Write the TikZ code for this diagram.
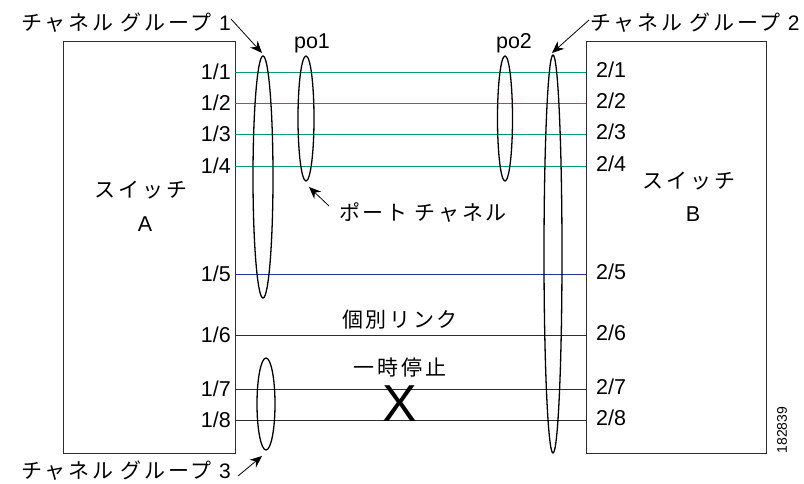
\documentclass[tikz,border=0pt]{standalone}
\usepackage{fontspec}
\setmainfont{Liberation Sans}
\newfontfamily\jp[LetterSpace=13]{Noto Sans CJK JP}
\usetikzlibrary{shapes.geometric,arrows.meta}
\definecolor{lgreen}{RGB}{0,155,115}
\definecolor{lblue}{RGB}{40,50,160}
\definecolor{lgrey}{RGB}{45,45,45}
\tikzset{
  switchbox/.style={draw=lgrey,line width=1.2pt,inner sep=0pt,anchor=north west},
  grp/.style={ellipse,draw=black,line width=1.3pt,inner sep=0pt},
  lbl/.style={font=\fontsize{21.5pt}{23pt}\selectfont,inner sep=0pt},
  jlbl/.style={font=\fontsize{21pt}{23pt}\selectfont\jp,inner sep=0pt},
  greenlink/.style={draw=lgreen,line width=1pt},
  bluelink/.style={draw=lblue,line width=1pt},
  blacklink/.style={draw=lgrey,line width=1pt},
  pointer/.style={draw=black,line width=0.8pt,-{Stealth[length=12pt,width=10pt]}},
}
\begin{document}
\begin{tikzpicture}[x=1pt,y=-1pt]
\useasboundingbox (0,0) rectangle (804,483);
% switches
\node[switchbox,minimum width=172pt,minimum height=412pt] (swA) at (63,41) {};
\node[switchbox,minimum width=180pt,minimum height=412pt] (swB) at (586,41) {};
\node[jlbl] (swAt) at (141,190) {スイッチ};
\node[lbl] (swAl) at (145,224) {A};
\node[jlbl] (swBt) at (689,181) {スイッチ};
\node[lbl] (swBl) at (693,214) {B};
% ports
\foreach \i/\y in {1/72,2/103,3/134,4/166,5/274,6/335,7/389,8/420}{
  \coordinate (pA\i) at (235,\y);
  \coordinate (pB\i) at (586,\y);
  \node[lbl,anchor=east] (lA\i) at (231,\y) {1/\i};
  \node[lbl,anchor=west] (lB\i) at (596,\y-2) {2/\i};
}
% links
\foreach \i in {1,2,3,4}{\draw[greenlink] (pA\i) -- (pB\i);}
\draw[bluelink] (pA5) -- (pB5);
\foreach \i in {6,7,8}{\draw[blacklink] (pA\i) -- (pB\i);}
% ellipses
\node[grp,minimum width=20pt,minimum height=242pt] (cg1) at (263,177) {};
\node[grp,minimum width=16pt,minimum height=125pt] (po1) at (306,118.5) {};
\node[grp,minimum width=15pt,minimum height=125pt] (po2) at (505,118.5) {};
\node[grp,minimum width=18pt,minimum height=398pt] (cg2) at (553,254) {};
\node[grp,minimum width=18pt,minimum height=92pt] (cg3) at (266,404) {};
% labels
\node[jlbl,anchor=east] (cg1t) at (231,23) {チャネル グループ {\fontspec{Liberation Sans}1}};
\node[jlbl,anchor=west] (cg2t) at (590,23) {チャネル グループ {\fontspec{Liberation Sans}2}};
\node[jlbl,anchor=east] (cg3t) at (231,471) {チャネル グループ {\fontspec{Liberation Sans}3}};
\node[lbl] (po1t) at (312,43) {po1};
\node[lbl] (po2t) at (514,43) {po2};
\node[jlbl] (pct) at (423,213) {ポート チャネル};
\node[jlbl] (indiv) at (400,320) {個別リンク};
\node[jlbl] (susp) at (400,368) {一時停止};
\node[font=\fontsize{52pt}{54pt}\selectfont,inner sep=0pt] (xmark) at (400,404) {X};
\node[font=\fontsize{14pt}{15pt}\selectfont,inner sep=0pt,rotate=90] (fig) at (782,430) {182839};
% pointers
\coordinate (a1s) at (231,19);
\coordinate (a1e) at (262,53);
\coordinate (a2s) at (589,20);
\coordinate (a2e) at (552,53);
\coordinate (a3s) at (329,206);
\coordinate (a3e) at (309,187);
\coordinate (a4s) at (238,476);
\coordinate (a4e) at (262,456);
\draw[pointer] (a1s) -- (a1e);
\draw[pointer] (a2s) -- (a2e);
\draw[pointer] (a3s) -- (a3e);
\draw[pointer] (a4s) -- (a4e);
\end{tikzpicture}
\end{document}
